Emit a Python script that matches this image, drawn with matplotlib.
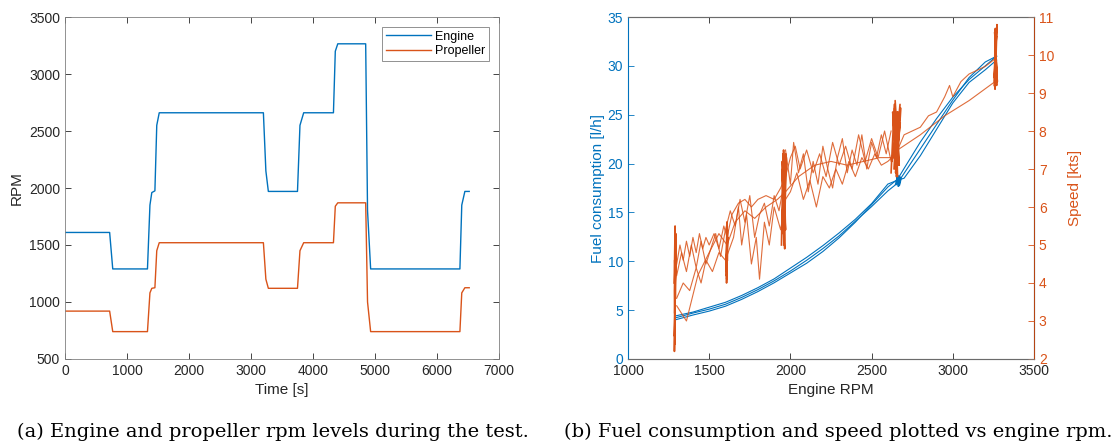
import numpy as np
import matplotlib.pyplot as plt

# ---- left: rpm levels over time (breakpoints)
timeEngine = [0, 720, 770, 1330, 1370, 1400, 1450, 1480, 1520, 3200, 3240, 3280,
              3750, 3790, 3850, 4330, 4360, 4400, 4850, 4880, 4930, 6370, 6400,
              6450, 6520]
rpmEngine = [1610, 1610, 1290, 1290, 1850, 1960, 1975, 2550, 2660, 2660, 2150, 1970,
             1970, 2550, 2660, 2660, 3200, 3265, 3265, 1800, 1290, 1290, 1850,
             1970, 1970]
timeProp = [0, 720, 770, 1330, 1370, 1400, 1450, 1480, 1520, 3200, 3240, 3280,
            3750, 3790, 3850, 4330, 4360, 4400, 4850, 4880, 4930, 6370, 6400,
            6450, 6520]
rpmProp = [920, 920, 740, 740, 1080, 1120, 1125, 1450, 1520, 1520, 1200, 1120,
           1120, 1450, 1520, 1520, 1840, 1870, 1870, 1000, 740, 740, 1080,
           1125, 1125]

# ---- right: fuel consumption vs engine rpm (three passes)
fuelRpm = [1290, 1400, 1500, 1600, 1700, 1800, 1900, 2000, 2100, 2200, 2300,
           2400, 2500, 2600, 2660, 2700, 2800, 2900, 3000, 3100, 3200, 3270]
fuelPass1 = [4.0, 4.5, 4.9, 5.4, 6.1, 6.9, 7.8, 8.8, 9.8, 11.0, 12.4,
             14.0, 15.8, 17.6, 18.4, 19.5, 22.2, 24.6, 26.8, 28.6, 30.0, 31.0]
fuelPass2 = [4.2, 4.7, 5.1, 5.6, 6.3, 7.1, 8.0, 9.0, 10.1, 11.3, 12.6,
             14.1, 15.6, 17.2, 18.0, 19.0, 21.5, 24.0, 26.5, 28.8, 30.4, 31.0]
fuelPass3 = [4.4, 4.8, 5.3, 5.8, 6.5, 7.3, 8.2, 9.3, 10.4, 11.6, 12.9,
             14.3, 15.9, 17.9, 18.3, 18.5, 20.8, 23.5, 26.2, 28.3, 29.6, 30.6]
fuelClusterRpm = [2650, 2660, 2670, 2680, 2655, 2665, 2675, 2660, 2670]
fuelClusterVal = [17.9, 18.6, 17.8, 18.5, 18.8, 17.7, 18.4, 18.2, 18.6]

# ---- right: speed vs engine rpm, hand-read zigzag traces
speedRpm1 = [1300, 1320, 1340, 1360, 1380, 1400, 1420, 1440, 1460, 1480, 1500,
             1530, 1560, 1590, 1610, 1640, 1680, 1720, 1760, 1800, 1850, 1900,
             1940, 1970, 2000, 2030, 2060, 2100, 2140, 2180, 2220, 2260, 2300,
             2340, 2380, 2420, 2460, 2500, 2540, 2580, 2620, 2650]
speed1 = [4.5, 5.0, 4.6, 5.1, 4.7, 5.2, 4.8, 5.3, 4.9, 5.2, 5.0,
          5.3, 4.9, 5.5, 5.2, 5.8, 6.1, 6.2, 6.0, 6.2, 6.3, 6.2,
          6.5, 6.8, 7.3, 7.6, 7.0, 7.5, 6.9, 7.4, 6.8, 7.7, 7.1,
          7.6, 7.0, 7.9, 7.2, 7.8, 7.3, 8.0, 7.2, 7.6]
speedRpm2 = [1300, 1340, 1380, 1420, 1450, 1480, 1520, 1560, 1600, 1650, 1680,
             1700, 1730, 1760, 1790, 1810, 1840, 1870, 1900, 1940, 1970, 2000,
             2040, 2080, 2120, 2160, 2200, 2240, 2280, 2320, 2360, 2400, 2440,
             2480, 2520, 2560, 2600, 2650]
speed2 = [3.6, 4.0, 3.8, 4.4, 4.0, 4.6, 4.3, 4.8, 4.6, 5.2, 6.0,
          5.0, 5.8, 4.5, 5.2, 4.1, 5.6, 5.0, 6.0, 5.4, 6.2, 6.4,
          6.9, 6.2, 6.7, 6.0, 6.8, 6.5, 7.0, 6.6, 7.2, 6.8, 7.3,
          7.0, 7.4, 7.1, 7.2, 7.4]
speedRpm3 = [1300, 1360, 1430, 1500, 1560, 1610, 1660, 1720, 1780, 1850, 1920,
             1970, 2050, 2150, 2250, 2350, 2450, 2550, 2620, 2660, 2700, 2800,
             2850, 2900, 2950, 2980, 3000, 3050, 3100, 3150, 3200, 3260]
speed3 = [3.4, 3.0, 4.2, 4.8, 5.3, 5.0, 5.6, 5.9, 5.7, 6.0, 6.2,
          6.4, 6.8, 7.1, 7.2, 7.1, 7.2, 7.3, 7.3, 7.5, 7.9, 8.1,
          8.4, 8.5, 8.9, 9.2, 8.9, 9.3, 9.5, 9.6, 9.7, 9.9]
speedRpm4 = [2660, 2800, 2950, 3100, 3260]
speed4 = [7.5, 7.9, 8.4, 8.8, 9.3]
speedRpm5 = [1300, 1330, 1360, 1390, 1420, 1450, 1480, 1510, 1540, 1570, 1600,
             1630, 1660, 1690, 1720, 1750, 1780, 1810, 1840, 1870, 1900, 1930,
             1960]
speed5 = [4.2, 4.8, 4.3, 5.0, 4.4, 5.1, 4.5, 4.9, 5.3, 4.7, 5.4,
          5.9, 5.5, 6.2, 5.6, 6.3, 5.2, 5.8, 6.1, 5.5, 6.3, 5.9,
          6.6]
speedRpm6 = [1970, 2000, 2020, 2050, 2080, 2110, 2140, 2170, 2200, 2230, 2260,
             2290, 2320, 2350, 2380, 2410, 2440, 2470, 2500, 2530, 2560, 2590,
             2620]
speed6 = [7.5, 6.6, 7.7, 6.9, 7.4, 6.4, 7.2, 6.6, 7.6, 7.0, 6.5,
          7.3, 7.8, 6.9, 7.5, 7.1, 7.9, 7.0, 7.7, 7.3, 7.9, 7.4,
          8.0]

# clusters where rpm was held steady (vertical oscillation)
clusterRpm1 = [1285, 1290, 1288, 1293, 1286, 1291, 1289, 1295, 1287, 1292,
               1290, 1294, 1286, 1290, 1288, 1293]
clusterSpeed1 = [4.0, 5.5, 3.2, 5.0, 2.2, 4.8, 3.6, 5.2, 2.6, 4.4,
                 3.4, 5.3, 3.8, 2.4, 4.6, 3.6]
clusterRpm2 = [1605, 1610, 1607, 1613, 1606, 1611, 1608, 1614, 1605, 1610, 1612]
clusterSpeed2 = [4.2, 5.6, 4.0, 5.4, 4.3, 5.5, 4.1, 5.2, 4.5, 5.6, 4.6]
clusterRpm3 = [1945, 1955, 1960, 1950, 1965, 1958, 1970, 1952, 1962, 1975,
               1948, 1968, 1956, 1972, 1960, 1950, 1966, 1958]
clusterSpeed3 = [5.0, 7.4, 5.2, 7.2, 4.9, 7.5, 5.4, 7.0, 5.1, 7.3,
                 5.6, 7.1, 5.3, 7.4, 5.0, 6.9, 5.5, 7.2]
clusterRpm4 = [2620, 2640, 2650, 2630, 2660, 2645, 2670, 2635, 2655, 2680,
               2625, 2665, 2648, 2675, 2638, 2658, 2668, 2642, 2652, 2672,
               2632, 2662, 2646, 2676]
clusterSpeed4 = [6.9, 8.7, 7.0, 8.5, 6.8, 8.8, 7.1, 8.4, 6.9, 8.6,
                 7.2, 8.3, 6.9, 8.7, 7.0, 8.5, 7.1, 8.6, 6.8, 8.4,
                 7.3, 8.5, 7.0, 8.2]
clusterRpm5 = [3255, 3262, 3258, 3268, 3260, 3272, 3256, 3265, 3270, 3259,
               3266, 3262, 3274, 3258, 3268, 3263]
clusterSpeed5 = [9.2, 10.7, 9.3, 10.5, 9.1, 10.8, 9.4, 10.4, 9.2, 10.6,
                 9.5, 10.3, 9.3, 10.6, 9.6, 10.2]

blue = '#0072BD'
orange = '#D95319'
axcol = '#262626'

plt.rcParams['font.family'] = ['Liberation Sans', 'DejaVu Sans']
plt.rcParams['font.size'] = 10

fig = plt.figure(figsize=(11.17, 4.48), dpi=100)

def styleAxes(ax):
    ax.tick_params(direction='in', length=4, width=0.6, colors=axcol, labelsize=10,
                   top=True, right=True)
    for s in ax.spines.values():
        s.set_linewidth(0.6)
        s.set_color('#808080')

# (a)
ax1 = fig.add_axes([0.0582, 0.1987, 0.3885, 0.7633])
ax1.plot(timeEngine, rpmEngine, color=blue, linewidth=1, label='Engine')
ax1.plot(timeProp, rpmProp, color=orange, linewidth=1, label='Propeller')
ax1.set_xlim(0, 7000)
ax1.set_ylim(500, 3500)
ax1.set_xlabel('Time [s]', color=axcol, labelpad=4, fontsize=11)
ax1.set_ylabel('RPM', color=axcol, labelpad=4, fontsize=11)
styleAxes(ax1)
leg = ax1.legend(loc='upper right', fontsize=9, fancybox=False, framealpha=1,
                 edgecolor='#808080', handlelength=3.6, borderaxespad=0.8,
                 handletextpad=0.3, borderpad=0.3, labelspacing=0.2)
leg.get_frame().set_linewidth(0.6)

# (b)
ax2 = fig.add_axes([0.5622, 0.1987, 0.3635, 0.7633])
ax3 = ax2.twinx()
ax2.plot(fuelRpm, fuelPass1, color=blue, linewidth=0.8)
ax2.plot(fuelRpm, fuelPass2, color=blue, linewidth=0.8)
ax2.plot(fuelRpm, fuelPass3, color=blue, linewidth=0.8)
ax2.plot(fuelClusterRpm, fuelClusterVal, color=blue, linewidth=1.5)

for r, s in [(speedRpm1, speed1), (speedRpm2, speed2), (speedRpm3, speed3),
             (speedRpm4, speed4), (speedRpm5, speed5), (speedRpm6, speed6)]:
    ax3.plot(r, s, color=orange, linewidth=0.8, alpha=0.85)
for r, s in [(clusterRpm1, clusterSpeed1), (clusterRpm2, clusterSpeed2),
             (clusterRpm3, clusterSpeed3), (clusterRpm4, clusterSpeed4),
             (clusterRpm5, clusterSpeed5)]:
    ax3.plot(r, s, color=orange, linewidth=1.2)

ax2.set_xlim(1000, 3500)
ax2.set_ylim(0, 35)
ax3.set_ylim(2, 11)
ax2.set_xlabel('Engine RPM', color=axcol, labelpad=4, fontsize=11)
ax2.set_ylabel('Fuel consumption [l/h]', color=blue, labelpad=2, fontsize=11)
ax3.set_ylabel('Speed [kts]', color=orange, labelpad=10, fontsize=11)
ax2.tick_params(direction='in', length=4, width=0.6, colors=axcol, top=True,
                labelsize=10)
ax2.tick_params(axis='y', colors=blue)
ax3.tick_params(direction='in', length=4, width=0.6, colors=orange, labelsize=10)
for s in ax3.spines.values():
    s.set_linewidth(0.6)
ax3.spines['top'].set_color('#808080')
ax3.spines['bottom'].set_color('#808080')
ax3.spines['left'].set_color(blue)
ax3.spines['right'].set_color(orange)
ax2.spines['left'].set_color(blue)

fig.text(0.2444, 0.035, '(a) Engine and propeller rpm levels during the test.',
         ha='center', va='center', fontsize=14, family='DejaVu Serif')
fig.text(0.750, 0.035, '(b) Fuel consumption and speed plotted vs engine rpm.',
         ha='center', va='center', fontsize=14, family='DejaVu Serif')

fig.savefig('out.png', dpi=100)
